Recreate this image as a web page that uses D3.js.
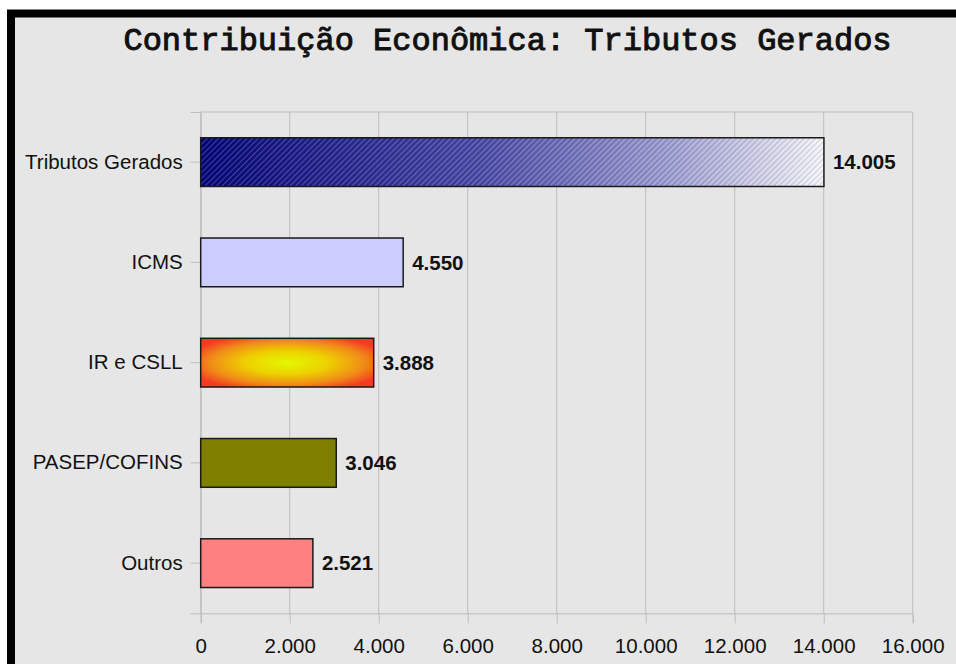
<!DOCTYPE html>
<html>
<head>
<meta charset="utf-8">
<script src="https://cdn.jsdelivr.net/npm/d3@7/dist/d3.min.js"></script>
<style>
  html, body { margin: 0; padding: 0; background: #ffffff; }
  svg { display: block; }
</style>
</head>
<body>
<svg id="chart" width="956" height="664"></svg>
<script>
const categories = ["Tributos Gerados", "ICMS", "IR e CSLL", "PASEP/COFINS", "Outros"];
const values = [14005, 4550, 3888, 3046, 2521];
const valueLabels = ["14.005", "4.550", "3.888", "3.046", "2.521"];
const tickValues = [0, 2000, 4000, 6000, 8000, 10000, 12000, 14000, 16000];
const tickLabels = ["0", "2.000", "4.000", "6.000", "8.000", "10.000", "12.000", "14.000", "16.000"];
const title = "Contribuição Econômica: Tributos Gerados";

(function () {
const svg = d3.select("#chart");

// frame background with thick black border (cropped at right/bottom)
svg.append("rect").attr("x", 11).attr("y", 13.5).attr("width", 1000).attr("height", 700)
  .attr("fill", "#e6e6e6").attr("stroke", "#000").attr("stroke-width", 8);

const defs = svg.append("defs");
const g1 = defs.append("linearGradient").attr("id", "gBlue").attr("x1", "0%").attr("x2", "100%").attr("y1", "0%").attr("y2", "0%");
g1.append("stop").attr("offset", "0%").attr("stop-color", "#050578");
g1.append("stop").attr("offset", "45%").attr("stop-color", "#4a4aa6");
g1.append("stop").attr("offset", "75%").attr("stop-color", "#9c9cd0");
g1.append("stop").attr("offset", "100%").attr("stop-color", "#f4f4f8");

const hatch = defs.append("pattern").attr("id", "hatch").attr("patternUnits", "userSpaceOnUse")
  .attr("width", 4).attr("height", 4).attr("patternTransform", "rotate(45)");
hatch.append("line").attr("x1", 0.5).attr("y1", 0).attr("x2", 0.5).attr("y2", 4)
  .attr("stroke", "rgba(255,255,255,0.22)").attr("stroke-width", 1);
hatch.append("line").attr("x1", 2.5).attr("y1", 0).attr("x2", 2.5).attr("y2", 4)
  .attr("stroke", "rgba(0,0,40,0.14)").attr("stroke-width", 1);

const rg = defs.append("radialGradient").attr("id", "gFire").attr("cx", "50%").attr("cy", "50%").attr("r", "60%");
rg.append("stop").attr("offset", "0%").attr("stop-color", "#e2f800");
rg.append("stop").attr("offset", "40%").attr("stop-color", "#eed000");
rg.append("stop").attr("offset", "75%").attr("stop-color", "#f08a18");
rg.append("stop").attr("offset", "100%").attr("stop-color", "#f43a22");

const fills = ["url(#gBlue)", "#ccccff", "url(#gFire)", "#808000", "#ff8080"];

const pLeft = 200.7, pRight = 912.7, pTop = 112, pBottom = 613.3;
const x = d3.scaleLinear().domain([0, 16000]).range([pLeft, pRight]);
const y = d3.scaleBand().domain(categories).range([pTop, pBottom]).paddingInner(0.514).paddingOuter(0.257);

// gridlines
svg.append("g").selectAll("line").data(tickValues).join("line")
  .attr("x1", d => x(d)).attr("x2", d => x(d)).attr("y1", pTop).attr("y2", pBottom)
  .attr("stroke", "#bdbdbd").attr("stroke-width", 1);
svg.append("line").attr("x1", pLeft).attr("x2", pRight).attr("y1", pTop).attr("y2", pTop)
  .attr("stroke", "#bdbdbd").attr("stroke-width", 1);

// x axis
const xAxis = d3.axisBottom(x).tickValues(tickValues)
  .tickFormat((d, i) => tickLabels[i]).tickSize(10).tickPadding(15);
const gx = svg.append("g").attr("transform", `translate(0,${pBottom})`).call(xAxis);
gx.select(".domain").attr("stroke", "#bdbdbd");
gx.selectAll(".tick line").attr("stroke", "#bdbdbd");
gx.selectAll("text").attr("font-family", "'Liberation Sans', Arial, sans-serif")
  .attr("font-size", 20.5).attr("fill", "#111");

// y axis
const yAxis = d3.axisLeft(y).tickSize(10).tickPadding(8);
const gy = svg.append("g").attr("transform", `translate(${pLeft},0)`).call(yAxis);
gy.select(".domain").attr("stroke", "#bdbdbd");
gy.selectAll(".tick line").attr("stroke", "#bdbdbd");
gy.selectAll("text").attr("font-family", "'Liberation Sans', Arial, sans-serif")
  .attr("font-size", 20.5).attr("fill", "#111");

// bars
const bars = svg.append("g").selectAll("g").data(categories).join("g");
bars.append("rect")
  .attr("x", x(0)).attr("y", d => y(d))
  .attr("width", (d, i) => x(values[i]) - x(0)).attr("height", y.bandwidth())
  .attr("fill", (d, i) => fills[i]);
bars.filter((d, i) => i === 0).append("rect")
  .attr("x", x(0)).attr("y", d => y(d))
  .attr("width", x(values[0]) - x(0)).attr("height", y.bandwidth())
  .attr("fill", "url(#hatch)");
bars.append("rect")
  .attr("x", x(0)).attr("y", d => y(d))
  .attr("width", d => x(values[categories.indexOf(d)]) - x(0)).attr("height", y.bandwidth())
  .attr("fill", "none").attr("stroke", "#1a1a1a").attr("stroke-width", 1.5);

// value labels
svg.append("g").selectAll("text").data(categories).join("text")
  .attr("x", (d, i) => x(values[i]) + 9)
  .attr("y", d => y(d) + y.bandwidth() / 2)
  .attr("dy", "0.35em")
  .attr("font-family", "'Liberation Sans', Arial, sans-serif")
  .attr("font-weight", "bold").attr("font-size", 20.5).attr("fill", "#111")
  .text((d, i) => valueLabels[i]);

// title
svg.append("text").attr("x", 507.5).attr("y", 50).attr("text-anchor", "middle")
  .attr("font-family", "'Liberation Mono', 'Courier New', monospace")
  .attr("font-weight", "normal").attr("font-size", 32).attr("fill", "#111")
  .attr("stroke", "#111").attr("stroke-width", 1)
  .text(title);
})();
</script>
</body>
</html>
